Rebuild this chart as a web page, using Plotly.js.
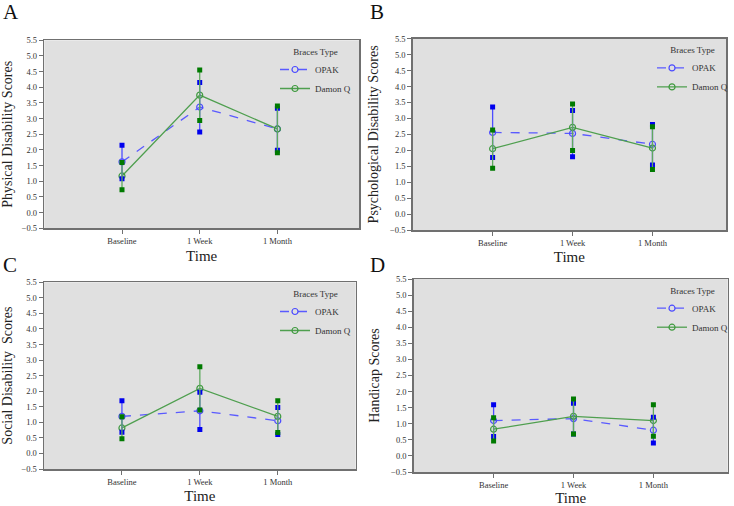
<!DOCTYPE html>
<html>
<head>
<meta charset="utf-8">
<script src="https://cdn.plot.ly/plotly-3.0.1.min.js"></script>
<style>html,body{margin:0;padding:0;background:#fff;}#chart{width:734px;height:506px;}</style>
</head>
<body>
<div id="chart"></div>
<script>
// ---- Data ----
const timepoints = ['Baseline', '1 Week', '1 Month'];
const seriesNames = ['OPAK', 'Damon Q'];
const panelLetters = ['A', 'B', 'C', 'D'];
const yTitles = ['Physical Disability Scores', 'Psychological Disability Scores', 'Social Disability  Scores', 'Handicap Scores'];

const physOpakMean = [1.62, 3.37, 2.67];
const physOpakUpper = [2.15, 4.15, 3.33];
const physOpakLower = [1.08, 2.57, 1.99];
const physDamonMean = [1.17, 3.75, 2.67];
const physDamonUpper = [1.60, 4.55, 3.40];
const physDamonLower = [0.73, 2.94, 1.91];

const psychOpakMean = [2.56, 2.53, 2.19];
const psychOpakUpper = [3.36, 3.25, 2.81];
const psychOpakLower = [1.77, 1.80, 1.54];
const psychDamonMean = [2.05, 2.72, 2.07];
const psychDamonUpper = [2.64, 3.45, 2.74];
const psychDamonLower = [1.44, 1.99, 1.40];

const socialOpakMean = [1.19, 1.37, 1.05];
const socialOpakUpper = [1.69, 1.97, 1.48];
const socialOpakLower = [0.68, 0.77, 0.61];
const socialDamonMean = [0.82, 2.09, 1.19];
const socialDamonUpper = [1.18, 2.79, 1.69];
const socialDamonLower = [0.47, 1.40, 0.67];

const handOpakMean = [1.10, 1.16, 0.80];
const handOpakUpper = [1.59, 1.64, 1.20];
const handOpakLower = [0.60, 0.68, 0.40];
const handDamonMean = [0.83, 1.23, 1.10];
const handDamonUpper = [1.19, 1.77, 1.59];
const handDamonLower = [0.46, 0.68, 0.61];

const yTickVals = [-0.5, 0, 0.5, 1, 1.5, 2, 2.5, 3, 3.5, 4, 4.5, 5, 5.5];

// ---- Build panels ----
const panels = [
  {opak: [physOpakMean, physOpakUpper, physOpakLower], damon: [physDamonMean, physDamonUpper, physDamonLower]},
  {opak: [psychOpakMean, psychOpakUpper, psychOpakLower], damon: [psychDamonMean, psychDamonUpper, psychDamonLower]},
  {opak: [socialOpakMean, socialOpakUpper, socialOpakLower], damon: [socialDamonMean, socialDamonUpper, socialDamonLower]},
  {opak: [handOpakMean, handOpakUpper, handOpakLower], damon: [handDamonMean, handDamonUpper, handDamonLower]}
];

const W = 734, H = 506;
// plot-area pixel boxes [left, right, top, bottom]
const boxes = [
  [44.3, 359, 40.3, 228.3],
  [412.7, 726, 38.7, 230],
  [44, 355.7, 282.3, 469],
  [413.7, 727.7, 279, 472]
];
const xRanges = [[-1, 3.05], [-1, 2.92], [-1, 3.0], [-1, 2.93]];
// legend text start (px) per panel
const legendX = [275, 652, 275, 652];

const serif = 'Liberation Serif, Times New Roman, serif';
const styles = {
  opak: {line: '#5a5aff', dash: 'dash', circle: '#4b4bff', bar: '#4d4dff', cap: '#0000ee'},
  damon: {line: '#4f9f4f', dash: 'solid', circle: '#3f9a3f', bar: '#5fa95f', cap: '#007a00'}
};

const traces = [];
const layout = {
  width: W, height: H,
  margin: {l: 0, r: 0, t: 0, b: 0},
  paper_bgcolor: '#ffffff',
  plot_bgcolor: '#e0e0e0',
  showlegend: true,
  annotations: [],
  font: {family: serif, color: '#222'}
};

panels.forEach((p, i) => {
  const n = i === 0 ? '' : String(i + 1);
  const xa = 'x' + n, ya = 'y' + n;
  const leg = 'legend' + n;
  ['opak', 'damon'].forEach((key, k) => {
    const s = styles[key];
    const [mean, upper, lower] = p[key];
    traces.push({
      type: 'scatter', mode: 'lines+markers',
      x: timepoints, y: mean, xaxis: xa, yaxis: ya,
      name: seriesNames[k], legend: leg, showlegend: true,
      line: {color: s.line, width: 1.3, dash: s.dash},
      marker: {symbol: 'circle-open', size: 6, color: s.circle, line: {width: 1.2, color: s.circle}},
      hoverinfo: 'skip'
    });
  });
  ['opak', 'damon'].forEach((key) => {
    const s = styles[key];
    const [mean, upper, lower] = p[key];
    const ex = [], ey = [];
    timepoints.forEach((t, j) => { ex.push(t, t, null); ey.push(lower[j], upper[j], null); });
    traces.push({
      type: 'scatter', mode: 'lines+markers',
      x: ex, y: ey, xaxis: xa, yaxis: ya, showlegend: false, legend: leg,
      line: {color: s.bar, width: 1.3},
      marker: {symbol: 'square', size: 5, color: s.cap},
      connectgaps: false, hoverinfo: 'skip'
    });
  });

  const [l, r, t, b] = boxes[i];
  const axCommon = {
    showline: true, mirror: true, linecolor: '#707070', linewidth: 1.5,
    ticks: 'outside', ticklen: 4, tickcolor: '#707070', tickwidth: 1,
    showgrid: false, zeroline: false,
    tickfont: {family: serif, size: 8.5, color: '#333'}
  };
  layout['xaxis' + n] = Object.assign({}, axCommon, {
    domain: [l / W, r / W], anchor: ya, type: 'category',
    range: xRanges[i],
    title: {text: 'Time', font: {family: serif, size: 15, color: '#222'}, standoff: 5}
  });
  layout['yaxis' + n] = Object.assign({}, axCommon, {
    domain: [1 - b / H, 1 - t / H], anchor: xa,
    range: [-0.5, 5.5], tickvals: yTickVals, tickformat: '.1f',
    title: {text: yTitles[i], font: {family: serif, size: 14, color: '#222'}, standoff: 8}
  });
  layout[leg] = {
    x: legendX[i] / W, xanchor: 'left',
    y: 1 - (t + 3) / H, yanchor: 'top',
    bgcolor: 'rgba(0,0,0,0)', borderwidth: 0,
    font: {family: serif, size: 9, color: '#333'},
    title: {text: 'Braces Type', side: 'top center', font: {family: serif, size: 9, color: '#333'}},
    tracegroupgap: 0
  };
  layout.annotations.push({
    text: panelLetters[i], xref: 'paper', yref: 'paper',
    x: (i % 2 === 0 ? 1 : 368) / W, y: 1 - (i < 2 ? -2 : 251) / H,
    xanchor: 'left', yanchor: 'top', showarrow: false,
    font: {family: serif, size: 21, color: '#111'}
  });
});

Plotly.newPlot('chart', traces, layout, {displayModeBar: false, staticPlot: true});
</script>
</body>
</html>
